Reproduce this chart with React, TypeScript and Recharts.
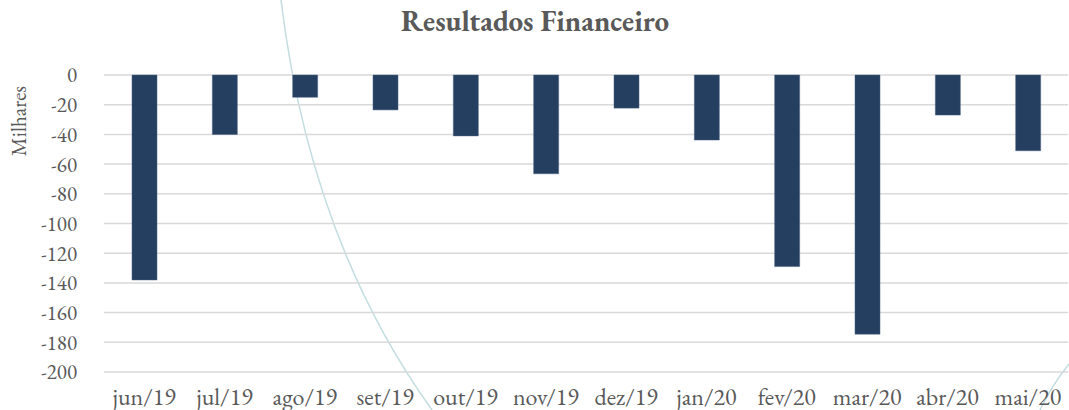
import React from 'react';
import { BarChart, Bar, XAxis, YAxis, CartesianGrid } from 'recharts';

const months = ['jun/19', 'jul/19', 'ago/19', 'set/19', 'out/19', 'nov/19', 'dez/19', 'jan/20', 'fev/20', 'mar/20', 'abr/20', 'mai/20'];
const resultado = [-138, -40, -15, -23.5, -41, -66.5, -22.3, -43.8, -129, -174.5, -27, -51];
const yTicks = [0, -20, -40, -60, -80, -100, -120, -140, -160, -180, -200];

const FONT = 'EB Garamond';
const GRAY = '#595959';

const data = months.map((m, i) => ({ mes: m, valor: resultado[i] }));

export default function App() {
  return (
    <div style={{ position: 'absolute', left: 0, top: 0, width: 1069, height: 410, background: '#fff' }}>
      {/* faint decorative arcs behind the chart */}
      <svg width={1069} height={410} style={{ position: 'absolute', left: 0, top: 0 }}>
        <path d="M281,0 Q310,240 432,410" fill="none" stroke="#c3dde0" strokeWidth={1.5} />
        <path d="M1069,364 Q1052,385 1040,410" fill="none" stroke="#c3dde0" strokeWidth={1.5} />
      </svg>
      <div style={{ position: 'absolute', left: 0, top: 0 }}>
        <BarChart
          width={1069}
          height={410}
          data={data}
          margin={{ top: 75, right: 1, left: 0, bottom: 8 }}
          barSize={25}
        >
          <text x={535} y={25} textAnchor="middle" dominantBaseline="middle" fontFamily={FONT} fontWeight="bold" fontSize={29} fill={GRAY}>
            Resultados Financeiro
          </text>
          <CartesianGrid vertical={false} stroke="#d9d9d9" strokeWidth={1.5} />
          <XAxis
            dataKey="mes"
            height={30}
            axisLine={false}
            tickLine={false}
            tickMargin={10}
            interval={0}
            tick={{ fontSize: 24, fill: GRAY, fontFamily: FONT }}
          />
          <YAxis
            width={104}
            domain={[-200, 0]}
            ticks={yTicks}
            interval={0}
            axisLine={false}
            tickLine={false}
            tickMargin={21}
            tick={{ fontSize: 21, fill: GRAY, fontFamily: FONT }}
            label={{
              content: () => (
                <text transform="translate(26,121) rotate(-90)" textAnchor="middle" fontFamily={FONT} fontSize={21} fill={GRAY}>
                  Milhares
                </text>
              ),
            }}
          />
          <Bar dataKey="valor" fill="#253f60" stroke="#4a6180" strokeWidth={0.5} isAnimationActive={false} />
        </BarChart>
      </div>
    </div>
  );
}
